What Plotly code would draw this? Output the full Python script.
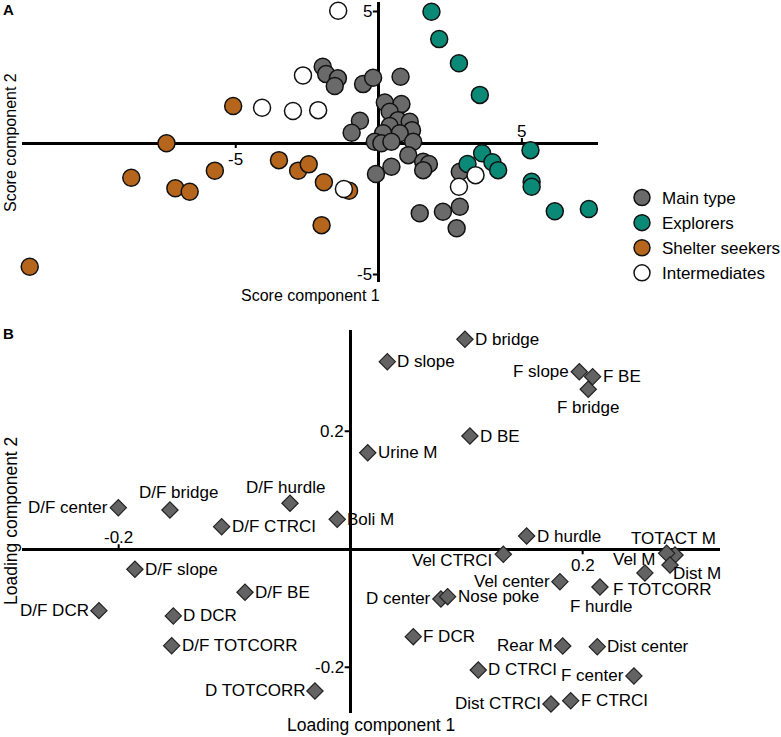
import plotly.graph_objects as go

# ---------------- Panel A: scores ----------------
main_x = [-1.96, -1.84, -1.43, -1.54, -0.55, -0.20, 0.76, -0.66, -0.95, 0.21, 0.79, 0.38, 0.67, 1.08, 1.16,
          0.38, 0.73, 0.15, -0.14, 0.09, 0.44, 1.20, 1.03, 0.44, -0.10, 1.55, 1.75, 1.55, 2.83, 1.43, 2.24,
          2.83, 2.72]
main_y = [2.90, 2.62, 2.46, 2.17, 2.24, 2.48, 2.52, 0.85, 0.39, 1.54, 1.48, 1.19, 0.87, 0.81, 0.49,
          0.65, 0.37, 0.37, 0.05, -0.01, 0.05, 0.05, -0.46, -0.90, -1.18, -0.71, -0.80, -1.03, -1.09, -2.67, -2.61,
          -2.42, -3.24]

expl_x = [1.84, 2.11, 2.80, 3.53, 3.61, 3.10, 3.97, 4.17, 5.30, 5.34, 5.34, 6.15, 7.34]
expl_y = [4.99, 3.95, 3.03, 1.83, -0.39, -0.80, -0.73, -1.03, -0.27, -1.47, -1.66, -2.59, -2.51]

shel_x = [-5.09, -7.42, -8.65, -7.11, -6.61, -5.73, -3.49, -2.82, -2.45, -1.92, -1.04, -2.00, -12.20]
shel_y = [1.41, -0.01, -1.32, -1.72, -1.85, -1.05, -0.65, -1.05, -0.81, -1.49, -1.81, -3.12, -4.70]

inter_x = [-1.42, -2.65, -4.08, -3.00, -2.12, -1.22, 2.80, 3.38]
inter_y = [5.03, 2.57, 1.34, 1.22, 1.25, -1.75, -1.66, -1.22]

group_names = ["Main type", "Explorers", "Shelter seekers", "Intermediates"]
score_ticks = [-5, 5]

# ---------------- Panel B: loadings ----------------
load_names = ["D bridge", "D slope", "F slope", "F BE", "F bridge", "D BE", "Urine M", "D/F hurdle",
              "D/F bridge", "D/F center", "D/F CTRCI", "Boli M", "D hurdle", "TOTACT M", "Vel M", "Dist M",
              "Vel CTRCI", "D/F slope", "D/F BE", "Vel center", "F TOTCORR", "F hurdle", "D center",
              "Nose poke", "D/F DCR", "D DCR", "D/F TOTCORR", "F DCR", "Rear M", "Dist center", "D CTRCI",
              "F center", "D TOTCORR", "Dist CTRCI", "F CTRCI"]
load_x = [0.0985, 0.0316, 0.1971, 0.2086, 0.2048, 0.1028, 0.0147, -0.0523,
          -0.1558, -0.2003, -0.1112, -0.0116, 0.1517, 0.2796, 0.2724, 0.2753,
          0.1316, -0.1860, -0.0911, 0.1804, 0.2149, 0.2537, 0.0778,
          0.0836, -0.2170, -0.1529, -0.1543, 0.0540, 0.1828, 0.2126, 0.1100,
          0.2442, -0.0308, 0.1727, 0.1897]
load_y = [0.3559, 0.3180, 0.3010, 0.2926, 0.2712, 0.1920, 0.1637, 0.0780,
          0.0666, 0.0705, 0.0383, 0.0508, 0.0225, -0.0097, -0.0068, -0.0266,
          -0.0085, -0.0339, -0.0729, -0.0549, -0.0639, -0.0401, -0.0842,
          -0.0803, -0.1040, -0.1130, -0.1634, -0.1481, -0.1639, -0.1651, -0.2046,
          -0.2147, -0.2402, -0.2622, -0.2566]
loading_ticks = [-0.2, 0.2]

# ---------------- styling ----------------
FONT = "Liberation Sans, Arial, sans-serif"
W, H = 781, 737
LBL = 17
colors = ["#6a6a6a", "#0a8a76", "#b5661c", "#ffffff"]

# label placement: (xanchor, xshift px, down-offset px)
R = ("left", 8, 0)
L = ("right", -8, 0)
placement = {n: R for n in load_names}
for n in ["F slope", "D center", "Rear M", "F center", "Dist CTRCI", "D TOTCORR", "D/F DCR",
          "D/F center", "Vel center"]:
    placement[n] = L
placement.update({
    "D/F bridge": ("center", 9, -17),
    "D/F hurdle": ("center", -5, -16),
    "F bridge": ("center", 0, 18),
    "TOTACT M": ("center", -1, -17),
    "Vel M": ("right", -9, 6),
    "Dist M": ("left", 1, 9),
    "F TOTCORR": ("left", 11, 3),
    "F hurdle": ("center", -44, 34),
    "Vel CTRCI": ("right", -9, 6),
})

fig = go.Figure()

for name, xs, ys, c in zip(group_names, [main_x, expl_x, shel_x, inter_x],
                           [main_y, expl_y, shel_y, inter_y], colors):
    fig.add_trace(go.Scatter(
        x=xs, y=ys, mode="markers", name=name, xaxis="x", yaxis="y",
        marker=dict(size=17, color=c, line=dict(color="#111111", width=1.5)),
        cliponaxis=False,
    ))

fig.add_trace(go.Scatter(
    x=load_x, y=load_y, mode="markers", xaxis="x2", yaxis="y2", showlegend=False,
    marker=dict(symbol="diamond", size=12.5, color="#636363", line=dict(color="#222222", width=1.2)),
    cliponaxis=False,
))

annotations = []
for n, x, y in zip(load_names, load_x, load_y):
    xa, dx, dy = placement[n]
    annotations.append(dict(x=x, y=y, xref="x2", yref="y2", text=n, showarrow=False,
                            xanchor=xa, yanchor="middle", xshift=dx, yshift=-dy,
                            font=dict(size=LBL, color="black", family=FONT)))

# tick labels & marks (axes cross at origin)
shapes = []
def ytick(val, xr, yr, txt):
    annotations.append(dict(x=0, y=val, xref=xr, yref=yr, text=txt, showarrow=False,
                            xanchor="right", yanchor="middle", xshift=-5,
                            font=dict(size=LBL, color="black", family=FONT)))
    shapes.append(dict(type="line", xref=xr, yref=yr, xsizemode="pixel", xanchor=0,
                       x0=-6, x1=0, y0=val, y1=val, line=dict(color="black", width=2)))

def xtick(val, xr, yr, txt, up):
    s = 1 if up else -1
    annotations.append(dict(x=val, y=0, xref=xr, yref=yr, text=txt, showarrow=False,
                            xanchor="center", yanchor="middle", yshift=s * (12 if up else 16),
                            font=dict(size=LBL, color="black", family=FONT)))
    shapes.append(dict(type="line", xref=xr, yref=yr, ysizemode="pixel", yanchor=0,
                       y0=0, y1=s * 5, x0=val, x1=val, line=dict(color="black", width=2)))

ytick(score_ticks[1], "x", "y", "5")
ytick(score_ticks[0], "x", "y", "-5")
xtick(score_ticks[0], "x", "y", "-5", up=False)
xtick(score_ticks[1], "x", "y", "5", up=True)
ytick(loading_ticks[1], "x2", "y2", "0.2")
ytick(loading_ticks[0], "x2", "y2", "-0.2")
xtick(loading_ticks[0], "x2", "y2", "-0.2", up=True)
xtick(loading_ticks[1], "x2", "y2", "0.2", up=False)

def paper_text(txt, px, py, size, bold=False, angle=0):
    annotations.append(dict(x=px / W, y=1 - py / H, xref="paper", yref="paper",
                            text=f"<b>{txt}</b>" if bold else txt, showarrow=False,
                            xanchor="center", yanchor="middle", textangle=angle,
                            font=dict(size=size, color="black", family=FONT)))

paper_text("A", 8, 9, 15, bold=True)
paper_text("B", 8, 333, 15, bold=True)
paper_text("Score component 2", 10, 143, 16, angle=-90)
paper_text("Score component 1", 310, 295, 16)
paper_text("Loading component 2", 11, 521, 17.5, angle=-90)
paper_text("Loading component 1", 371, 725, 17.5)

ax_common = dict(showgrid=False, zeroline=True, zerolinecolor="black", zerolinewidth=2.5,
                 showticklabels=False, ticks="", showline=False, fixedrange=True)

fig.update_layout(
    width=W, height=H, margin=dict(l=0, r=0, t=0, b=0, autoexpand=False),
    paper_bgcolor="white", plot_bgcolor="white",
    font=dict(family=FONT, color="black"),
    xaxis=dict(domain=[21.7 / W, 598.3 / W], range=[-12.48, 7.67], anchor="y", **ax_common),
    yaxis=dict(domain=[1 - 281.7 / H, 1 - 2 / H], range=[-5.27, 5.36], anchor="x", **ax_common),
    xaxis2=dict(domain=[21.7 / W, 720 / W], range=[-0.2836, 0.3184], anchor="y2", **ax_common),
    yaxis2=dict(domain=[1 - 713 / H, 1 - 330 / H], range=[-0.2775, 0.3717], anchor="x2", **ax_common),
    legend=dict(x=622 / W, y=1 - 180 / H, xanchor="left", yanchor="top",
                font=dict(size=17, family=FONT, color="black"),
                bgcolor="rgba(0,0,0,0)", itemsizing="trace"),
    annotations=annotations, shapes=shapes,
)

fig.write_html("out.html", config={"displayModeBar": False},
               post_script="document.body.style.margin='0';document.body.style.overflow='hidden';")
